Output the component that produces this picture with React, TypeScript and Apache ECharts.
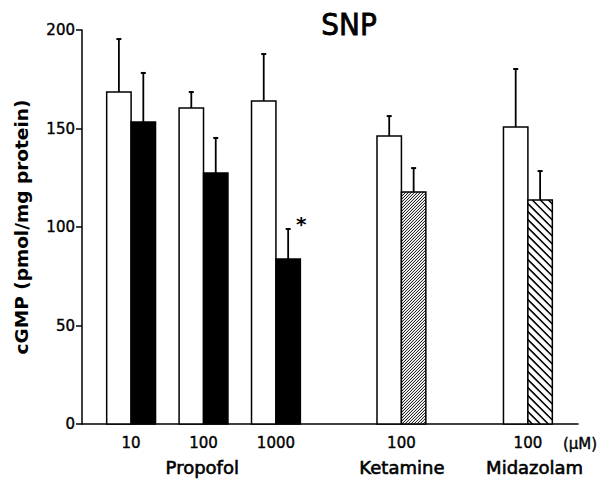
import React, { useEffect, useRef } from "react";
import * as echarts from "echarts";

// ---- data ----
const doseLabels = ["10", "100", "1000", "100", "100"];
const groupX = [1.98, 4.9, 7.82, 12.88, 17.98];
const drugOfGroup = ["Propofol", "Propofol", "Propofol", "Ketamine", "Midazolam"];
const controlMean = [168.5, 160.4, 164.0, 146.2, 150.8];
const controlErr = [26.9, 8.1, 23.8, 10.1, 29.4];
const drugMean = [153.3, 127.4, 83.8, 117.8, 113.7];
const drugErr = [24.9, 17.8, 15.2, 12.1, 14.7];
const significance = ["", "", "*", "", ""];
const groupNames = ["Propofol", "Ketamine", "Midazolam"];
const groupNameX = [4.85, 12.9, 18.25];
const yTicks = [0, 50, 100, 150, 200];

const FONT = "'DejaVu Sans', 'Liberation Sans', sans-serif";

function hatch(x0: number, y0: number, x1: number, y1: number, step: number, dir: string, lw: number) {
  const out: any[] = [];
  if (dir === "/") {
    for (let c = x0 + y0 + step / 2; c < x1 + y1; c += step) {
      const xa = Math.max(x0, c - y1);
      const xb = Math.min(x1, c - y0);
      if (xb > xa) {
        out.push({
          type: "line",
          shape: { x1: xa, y1: c - xa, x2: xb, y2: c - xb },
          style: { stroke: "#000", lineWidth: lw },
          silent: true,
        });
      }
    }
  } else {
    for (let c = y0 - x1 + step / 2; c < y1 - x0; c += step) {
      const xa = Math.max(x0, y0 - c);
      const xb = Math.min(x1, y1 - c);
      if (xb > xa) {
        out.push({
          type: "line",
          shape: { x1: xa, y1: xa + c, x2: xb, y2: xb + c },
          style: { stroke: "#000", lineWidth: lw },
          silent: true,
        });
      }
    }
  }
  return out;
}

const fillStyleOf: Record<string, string> = {
  Propofol: "solid",
  Ketamine: "dense",
  Midazolam: "sparse",
};

export default function App() {
  const ref = useRef<HTMLDivElement>(null);
  useEffect(() => {
    if (!ref.current) return;
    const chart = echarts.init(ref.current, undefined, { renderer: "svg" });
    const data = groupX.map((x, i) => [x, controlMean[i], controlErr[i], drugMean[i], drugErr[i], i]);
    const renderItem = (params: any, api: any) => {
      const x = api.value(0);
      const cm = api.value(1);
      const ce = api.value(2);
      const dm = api.value(3);
      const de = api.value(4);
      const idx = api.value(5);
      const base = api.coord([x, 0]);
      const bw = api.size([0.985, 0])[0];
      const cx = base[0];
      const y0 = base[1];
      const cTop = api.coord([x, cm])[1];
      const cErr = api.coord([x, cm + ce])[1];
      const dTop = api.coord([x, dm])[1];
      const dErr = api.coord([x, dm + de])[1];
      const kind = fillStyleOf[drugOfGroup[idx]];
      const children: any[] = [];
      const wxc = cx - bw / 2;
      const dxc = cx + bw / 2;
      const err = (xc: number, top: number, et: number) => [
        { type: "line", shape: { x1: xc, y1: top, x2: xc, y2: et }, style: { stroke: "#000", lineWidth: 1.8 } },
        { type: "line", shape: { x1: xc - 2.5, y1: et, x2: xc + 2.5, y2: et }, style: { stroke: "#000", lineWidth: 2 } },
      ];
      children.push(...err(wxc, cTop, cErr));
      children.push(...err(dxc, dTop, dErr));
      children.push({
        type: "rect",
        shape: { x: cx - bw, y: cTop, width: bw, height: y0 - cTop },
        style: { fill: "#fff", stroke: "#000", lineWidth: 1.5 },
      });
      children.push({
        type: "rect",
        shape: { x: cx, y: dTop, width: bw, height: y0 - dTop },
        style: { fill: kind === "solid" ? "#000" : "#fff", stroke: "#000", lineWidth: 1.5 },
      });
      if (kind === "dense") children.push(...hatch(cx, dTop, cx + bw, y0, 3, "/", 1));
      if (kind === "sparse") children.push(...hatch(cx, dTop, cx + bw, y0, 8, "\\", 1.6));
      const sig = significance[idx];
      if (sig) {
        children.push({
          type: "text",
          style: {
            text: sig,
            x: dxc + 13,
            y: dErr - 4.5,
            align: "center",
            verticalAlign: "middle",
            font: `bold 20px ${FONT}`,
            fill: "#000",
          },
        });
      }
      return { type: "group", children };
    };
    const heavy = { textBorderColor: "#000", textBorderWidth: 0.4 };
    const option: any = {
      animation: false,
      backgroundColor: "#fff",
      grid: { left: 82, right: 28, top: 30, bottom: 70, containLabel: false, outerBoundsMode: "none" },
      xAxis: [
        {
          type: "value",
          min: 0,
          max: 20,
          axisLine: { show: true, lineStyle: { color: "#000", width: 1.5 } },
          axisTick: { show: false },
          splitLine: { show: false },
          axisLabel: {
            customValues: groupX,
            margin: 11,
            color: "#000",
            fontSize: 15,
            fontFamily: FONT,
            ...heavy,
            formatter: (v: number) => {
              const i = groupX.findIndex((g) => Math.abs(g - v) < 1e-6);
              return i >= 0 ? doseLabels[i] : "";
            },
          },
        },
        {
          type: "value",
          position: "bottom",
          min: 0,
          max: 20,
          axisLine: { show: false },
          axisTick: { show: false },
          splitLine: { show: false },
          axisLabel: {
            customValues: groupNameX,
            margin: 34,
            color: "#000",
            fontSize: 18,
            fontFamily: FONT,
            textBorderColor: "#000",
            textBorderWidth: 0.6,
            formatter: (v: number) => {
              const i = groupNameX.findIndex((g) => Math.abs(g - v) < 1e-6);
              return i >= 0 ? groupNames[i] : "";
            },
          },
        },
      ],
      yAxis: {
        type: "value",
        min: 0,
        max: 200,
        interval: 50,
        name: "cGMP (pmol/mg protein)",
        nameLocation: "middle",
        nameGap: 51,
        nameTextStyle: { color: "#000", fontSize: 18.5, fontWeight: "bold", fontFamily: FONT },
        axisLine: { show: true, lineStyle: { color: "#000", width: 1.5 } },
        axisTick: { show: true, length: 6, lineStyle: { color: "#000", width: 1.5 } },
        splitLine: { show: false },
        axisLabel: {
          color: "#000",
          fontSize: 15,
          fontFamily: FONT,
          margin: 7,
          ...heavy,
          customValues: yTicks,
        },
      },
      graphic: [
        {
          type: "text",
          x: 349,
          y: 24,
          style: {
            text: "SNP",
            align: "center",
            verticalAlign: "middle",
            font: `31px 'DejaVu Sans Condensed', ${FONT}`,
            fill: "#000",
            stroke: "#000",
            lineWidth: 0.8,
          },
        },
        {
          type: "text",
          x: 580,
          y: 444,
          style: {
            text: "(μM)",
            align: "center",
            verticalAlign: "middle",
            font: `15px ${FONT}`,
            fill: "#000",
            stroke: "#000",
            lineWidth: 0.4,
          },
        },
      ],
      series: [
        {
          type: "custom",
          renderItem,
          data,
          xAxisIndex: 0,
          yAxisIndex: 0,
          encode: { x: 0, y: [1, 3] },
          clip: false,
        },
      ],
    };
    chart.setOption(option);
    return () => chart.dispose();
  }, []);
  return (
    <div
      ref={ref}
      style={{ position: "absolute", left: 0, top: 0, width: 606, height: 494 }}
    />
  );
}
